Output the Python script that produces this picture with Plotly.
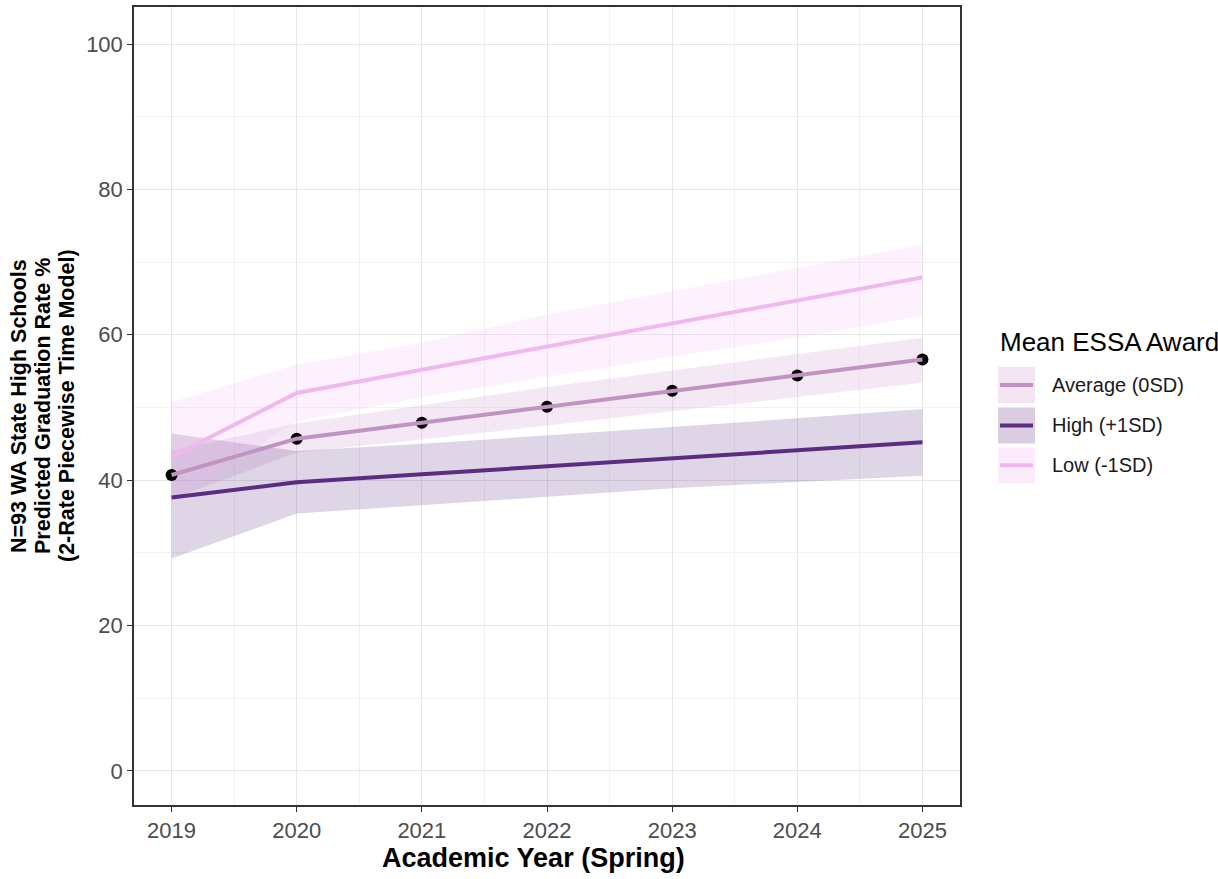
import plotly.graph_objects as go

years = [2019, 2020, 2021, 2022, 2023, 2024, 2025]
groups = ["Average (0SD)", "High (+1SD)", "Low (-1SD)"]

avg_fit = [40.7, 45.7, 47.9, 50.1, 52.3, 54.4, 56.6]
avg_lo = [37.4, 43.8, 45.6, 47.5, 49.5, 51.4, 53.4]
avg_hi = [44.0, 47.8, 50.3, 52.8, 55.1, 57.3, 59.6]

high_fit = [37.6, 39.7, 40.8, 41.9, 43.0, 44.1, 45.2]
high_lo = [29.2, 35.4, 36.6, 37.7, 38.9, 39.8, 40.6]
high_hi = [46.4, 44.0, 45.0, 46.1, 47.3, 48.5, 49.8]

low_fit = [43.2, 52.0, 55.2, 58.4, 61.6, 64.7, 67.9]
low_lo = [37.0, 48.1, 51.4, 54.2, 57.0, 59.6, 62.6]
low_hi = [50.7, 55.9, 58.9, 62.8, 66.0, 69.2, 72.4]

point_vals = avg_fit

line_colors = ["#C293C2", "#5A2C82", "#F2B8EE"]
fill_colors = ["rgba(200,150,200,0.22)", "rgba(91,44,131,0.2)", "rgba(242,184,238,0.2)"]
key_fill = ["#F3E4F1", "#DACDE1", "#FCEBFB"]

fits = [avg_fit, high_fit, low_fit]
los = [avg_lo, high_lo, low_lo]
his = [avg_hi, high_hi, low_hi]

fig = go.Figure()

# ribbons
for i in range(3):
    fig.add_trace(go.Scatter(
        x=years + years[::-1], y=his[i] + los[i][::-1],
        fill="toself", fillcolor=fill_colors[i], line=dict(width=0),
        mode="lines", showlegend=False, hoverinfo="skip"))

# points (under lines)
fig.add_trace(go.Scatter(x=years, y=point_vals, mode="markers",
                         marker=dict(color="black", size=12),
                         showlegend=False))

# lines
for i in range(3):
    fig.add_trace(go.Scatter(x=years, y=fits[i], mode="lines",
                             line=dict(color=line_colors[i], width=4),
                             name=groups[i], showlegend=False))

W, H = 1218, 879
L, R, T, B = 134, 960, 5, 805


def px(xp):
    return (xp - L) / (R - L)


def py(yp):
    return (B - yp) / (B - T)


shapes = []
annotations = []

# y-axis title lines
ytitle = ["N=93 WA State High Schools", "Predicted Graduation Rate %", "(2-Rate Piecewise Time Model)"]
for k, (t, xc) in enumerate(zip(ytitle, [19, 43, 67])):
    annotations.append(dict(text="<b>%s</b>" % t, xref="paper", yref="paper",
                            x=px(xc), y=py(405), xanchor="center", yanchor="middle",
                            textangle=-90, showarrow=False,
                            font=dict(family="Liberation Sans, Arial", size=21.5, color="black")))

# x-axis title
annotations.append(dict(text="<b>Academic Year (Spring)</b>", xref="paper", yref="paper",
                        x=px(533), y=py(858), xanchor="center", yanchor="middle",
                        showarrow=False,
                        font=dict(family="Liberation Sans, Arial", size=27, color="black")))

# legend title
annotations.append(dict(text="Mean ESSA Award", xref="paper", yref="paper",
                        x=px(998), y=py(341), xanchor="left", yanchor="middle",
                        showarrow=False,
                        font=dict(family="Liberation Sans, Arial", size=26, color="black")))

row_centers = [384, 424.5, 464.5]
for i in range(3):
    yc = row_centers[i]
    shapes.append(dict(type="rect", xref="paper", yref="paper",
                       x0=px(998), x1=px(1035), y0=py(yc + 18), y1=py(yc - 18),
                       fillcolor=key_fill[i], line=dict(width=0), layer="above"))
    shapes.append(dict(type="line", xref="paper", yref="paper",
                       x0=px(1000), x1=px(1033), y0=py(yc), y1=py(yc),
                       line=dict(color=line_colors[i], width=4), layer="above"))
    annotations.append(dict(text=groups[i], xref="paper", yref="paper",
                            x=px(1050), y=py(yc), xanchor="left", yanchor="middle",
                            showarrow=False,
                            font=dict(family="Liberation Sans, Arial", size=20, color="#1A1A1A")))

fig.update_layout(
    width=W, height=H,
    margin=dict(l=L, r=W - R, t=T, b=H - B),
    plot_bgcolor="white", paper_bgcolor="white",
    showlegend=False,
    shapes=shapes, annotations=annotations,
    font=dict(family="Liberation Sans, Arial"),
)

fig.update_xaxes(
    range=[2018.7, 2025.3], tickvals=years, ticktext=[str(y) for y in years],
    showgrid=True, gridcolor="#E6E6E6", gridwidth=1,
    minor=dict(tickvals=[2019.5, 2020.5, 2021.5, 2022.5, 2023.5, 2024.5],
               showgrid=True, gridcolor="#F2F2F2", gridwidth=0.8, ticks=""),
    ticks="outside", ticklen=5, tickcolor="#333333", tickwidth=1.2,
    tickfont=dict(size=22, color="#4D4D4D"),
    showline=True, mirror=True, linecolor="#333333", linewidth=1.5,
    zeroline=False,
)
fig.update_yaxes(
    range=[-4.7, 105.1], tickvals=[0, 20, 40, 60, 80, 100],
    showgrid=True, gridcolor="#E6E6E6", gridwidth=1,
    minor=dict(tickvals=[10, 30, 50, 70, 90], showgrid=True,
               gridcolor="#F2F2F2", gridwidth=0.8, ticks=""),
    ticks="outside", ticklen=5, tickcolor="#333333", tickwidth=1.2,
    tickfont=dict(size=22, color="#4D4D4D"),
    showline=True, mirror=True, linecolor="#333333", linewidth=1.5,
    zeroline=False,
)

fig.write_html("out.html", config={"displayModeBar": False},
               post_script="document.body.style.margin='0';")
